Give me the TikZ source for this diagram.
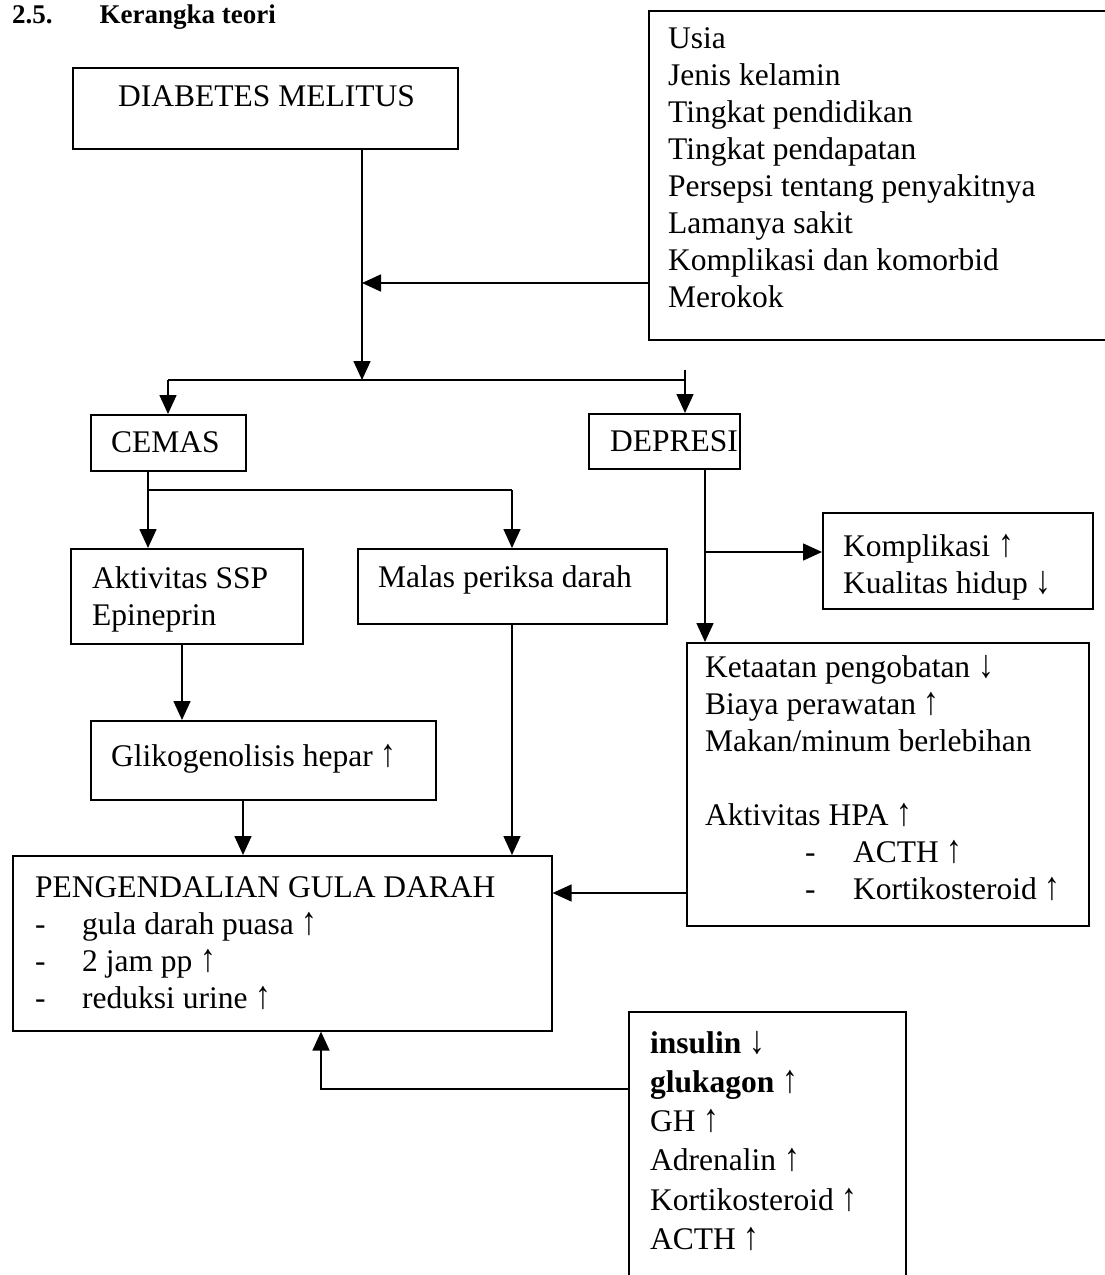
\documentclass[tikz,border=0pt]{standalone}
\usepackage{fontspec}
\usepackage{graphicx}
\setmainfont{Liberation Serif}
\usetikzlibrary{arrows.meta}
\newcommand\fs{\fontsize{31.5}{37}\selectfont}
\newcommand\fsb{\fontsize{31.5}{39.2}\selectfont}
\newcommand\upa{\scalebox{1}[1.25]{↑}}
\newcommand\dna{\scalebox{1}[1.25]{↓}}
\begin{document}
\begin{tikzpicture}[x=1pt,y=-1pt,
  box/.style={draw, line width=1.6pt, anchor=north west, inner sep=0pt},
  txt/.style={anchor=north west, inner sep=0pt, align=left, font=\fs},
  ln/.style={line width=1.6pt},
  arr/.style={line width=1.6pt, -{Triangle[length=19pt,width=17pt]}}]
\fill[white] (0,0) rectangle (1105,1275);
\useasboundingbox (0,0) rectangle (1105,1275);

% title
\node[anchor=base west, inner sep=0pt, font=\fontsize{27}{30}\selectfont\bfseries] (title) at (12,23) {2.5.\hspace{47pt}Kerangka teori};

% boxes
\node[box, minimum width=385pt, minimum height=81pt] (dm) at (72,67) {};
\node[box, minimum width=480pt, minimum height=329pt] (fac) at (648,10) {};
\node[box, minimum width=155pt, minimum height=56pt] (cemas) at (90,414) {};
\node[box, minimum width=151pt, minimum height=55pt] (dep) at (588,413) {};
\node[box, minimum width=232pt, minimum height=95pt] (akt) at (70,548) {};
\node[box, minimum width=309pt, minimum height=75pt] (malas) at (357,548) {};
\node[box, minimum width=270pt, minimum height=96pt] (komp) at (822,512) {};
\node[box, minimum width=402pt, minimum height=283pt] (ket) at (686,642) {};
\node[box, minimum width=345pt, minimum height=79pt] (gliko) at (90,720) {};
\node[box, minimum width=539pt, minimum height=175pt] (pgd) at (12,855) {};
\node[box, minimum width=277pt, minimum height=320pt] (hor) at (628,1011) {};

% texts (north = baseline - 25.9)
\node[txt] (tfac) at (668,22.1) {\strut Usia\\Jenis kelamin\\Tingkat pendidikan\\Tingkat pendapatan\\Persepsi tentang penyakitnya\\Lamanya sakit\\Komplikasi dan komorbid\\Merokok};
\node[txt] (tdm) at (118,80.1) {\strut DIABETES MELITUS};
\node[txt] (tcemas) at (111,426.1) {\strut CEMAS};
\node[txt] (tdep) at (610,425.1) {\strut DEPRESI};
\node[txt] (takt) at (92,562.1) {\strut Aktivitas SSP\\Epineprin};
\node[txt] (tmalas) at (378,561.1) {\strut Malas periksa darah};
\node[txt] (tkomp) at (843,530.1) {\strut Komplikasi \upa\\Kualitas hidup \dna};
\node[txt] (tket) at (705,651.1) {\strut Ketaatan pengobatan \dna\\Biaya perawatan \upa\\Makan/minum berlebihan\\[37pt]Aktivitas HPA \upa\\\hspace*{100pt}\makebox[48pt][l]{-}ACTH \upa\\\hspace*{100pt}\makebox[48pt][l]{-}Kortikosteroid \upa};
\node[txt] (tgliko) at (111,740.1) {\strut Glikogenolisis hepar \upa};
\node[txt] (tpgd) at (35,871.1) {\strut PENGENDALIAN GULA DARAH\\\makebox[47pt][l]{-}gula darah puasa \upa\\\makebox[47pt][l]{-}2 jam pp \upa\\\makebox[47pt][l]{-}reduksi urine \upa};
\node[txt, font=\fsb] (thor) at (650,1025.6) {\strut\textbf{insulin} \dna\\\textbf{glukagon} \upa\\GH \upa\\Adrenalin \upa\\Kortikosteroid \upa\\ACTH \upa};

% connectors
\coordinate (j1) at (362,380);
\coordinate (m283) at (362,283);
\draw[arr] (dm.south -| j1) -- (j1);
\draw[arr] (fac.west |- m283) -- (m283);
\coordinate (cL) at (168,380);
\coordinate (cR) at (685,380);
\coordinate (cRt) at (685,370);
\draw[ln] (cL) -- (cR);
\draw[arr] (cL) -- (cL |- cemas.north);
\draw[arr] (cRt) -- (cR |- dep.north);

\coordinate (c2L) at (148,490);
\coordinate (c2R) at (512,490);
\draw[ln] (cemas.south -| c2L) -- (c2L) -- (c2R);
\draw[arr] (c2L) -- (c2L |- akt.north);
\draw[arr] (c2R) -- (c2R |- malas.north);

\coordinate (x182) at (182,0);
\draw[arr] (akt.south -| x182) -- (gliko.north -| x182);
\coordinate (x243) at (243,0);
\draw[arr] (gliko.south -| x243) -- (pgd.north -| x243);
\draw[arr] (malas.south -| c2R) -- (pgd.north -| c2R);

\coordinate (d) at (705,552);
\draw[arr] (dep.south -| d) -- (ket.north -| d);
\draw[arr] (d) -- (komp.west |- d);

\coordinate (y893) at (0,893);
\draw[arr] (ket.west |- y893) -- (pgd.east |- y893);

\coordinate (b) at (321,1089);
\draw[arr] (hor.west |- b) -- (b) -- (pgd.south -| b);
\end{tikzpicture}
\end{document}
